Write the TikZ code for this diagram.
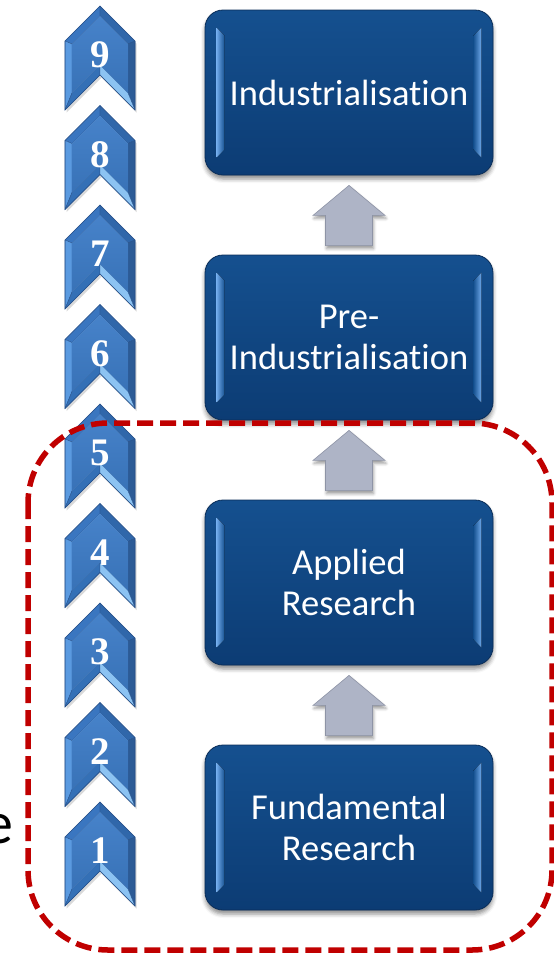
\documentclass[tikz,border=0pt]{standalone}
\usepackage{fontspec}
\setmainfont{Carlito}[Ligatures={NoCommon}]
\newfontfamily\numfont{Liberation Serif}
\usetikzlibrary{calc,shadows.blur}

\definecolor{boxtop}{HTML}{15508F}
\definecolor{boxbot}{HTML}{0C3C74}
\definecolor{boxedge}{HTML}{0A2D58}
\definecolor{hilite}{HTML}{6FA9EA}
\definecolor{chface}{HTML}{3D7CC7}
\definecolor{chleft}{HTML}{5A9AE0}
\definecolor{chtl}{HTML}{3A76C0}
\definecolor{chtr}{HTML}{3067AA}
\definecolor{chright}{HTML}{2C5B96}
\definecolor{chbr}{HTML}{8CC3F2}
\definecolor{chbl}{HTML}{3470B6}
\definecolor{chedge}{HTML}{26508A}
\definecolor{arrowfill}{HTML}{AEB4C6}
\definecolor{arrowedge}{HTML}{8E94A6}
\definecolor{zone}{HTML}{C00000}

\tikzset{
  stage/.style={rounded corners=18pt, draw=boxedge, line width=0.8pt,
    top color=boxtop, bottom color=boxbot,
    minimum width=288pt, minimum height=165pt, inner sep=0pt,
    blur shadow={shadow xshift=0pt, shadow yshift=-4pt, shadow blur radius=4pt, shadow opacity=45}},
  stagetext/.style={text=white, align=center, inner sep=0pt,
    font=\fontsize{36.5}{41}\selectfont},
  uparrow/.style={fill=arrowfill, draw=arrowedge, line width=0.6pt, line join=miter,
    blur shadow={shadow xshift=1pt, shadow yshift=-3pt, shadow blur radius=3pt, shadow opacity=40}},
  facet/.style={draw=chedge, line width=0.3pt, line join=round},
  level/.style={text=white, inner sep=0pt, font=\numfont\bfseries\fontsize{39}{39}\selectfont},
  zoneline/.style={draw=zone, line width=5.5pt, dash pattern=on 16pt off 7pt},
}

\begin{document}
\begin{tikzpicture}[x=1pt, y=-1pt]
\useasboundingbox (0,0) rectangle (554,954);

% partial heading letter at the left edge
\node[anchor=base east, inner sep=0pt, font=\fontsize{60}{60}\selectfont] (cutletter) at (14,843) {e};

% readiness level chevrons 1..9
\foreach \k in {1,...,9}{
  \pgfmathsetmacro\t{6+(9-\k)*99.5}
  \begin{scope}[shift={(100,\t)}]
    \fill[black, opacity=0.15] (1.5,2.5) -- (36.5,37.5) -- (36.5,106.5) -- (1.5,71.5) -- (-33.5,106.5) -- (-33.5,37.5) -- cycle;
    \filldraw[facet, fill=chtl] (0,0) -- (-35,35) -- (-28,38) -- (0,10) -- cycle;
    \filldraw[facet, fill=chtr] (0,0) -- (35,35) -- (28,38) -- (0,10) -- cycle;
    \filldraw[facet, fill=chleft] (-35,35) -- (-35,104) -- (-28,87) -- (-28,38) -- cycle;
    \filldraw[facet, fill=chright] (35,35) -- (35,104) -- (28,87) -- (28,38) -- cycle;
    \filldraw[facet, fill=chbl] (-35,104) -- (0,69) -- (0,59) -- (-28,87) -- cycle;
    \filldraw[facet, fill=chbr] (35,104) -- (0,69) -- (0,59) -- (28,87) -- cycle;
    \path[top color=chface!95!white, bottom color=chface!92!black] (0,10) -- (28,38) -- (28,87) -- (0,59) -- (-28,87) -- (-28,38) -- cycle;
    \draw[chedge, line width=0.6pt, line join=miter] (0,0) -- (35,35) -- (35,104) -- (0,69) -- (-35,104) -- (-35,35) -- cycle;
    \node[level] (lvl\k) at (0,49) {\k};
  \end{scope}
}

% stage boxes
\node[stage] (ind)  at (349,92.5)  {};
\node[stage] (pre)  at (349,337.5) {};
\node[stage] (app)  at (349,582.5) {};
\node[stage] (fund) at (349,827.5) {};

% bevel highlights on the box sides
\foreach \b in {ind,pre,app,fund}{
  \fill[left color=hilite, right color=boxtop]
    ($(\b.north west)+(12,18)$) -- ($(\b.south west)+(12,-18)$) --
    ($(\b.south west)+(20,-26)$) -- ($(\b.north west)+(20,26)$) -- cycle;
  \fill[left color=boxtop, right color=hilite]
    ($(\b.north east)+(-12,18)$) -- ($(\b.south east)+(-12,-18)$) --
    ($(\b.south east)+(-20,-26)$) -- ($(\b.north east)+(-20,26)$) -- cycle;
}

% stage labels
\node[stagetext] (indlabel)  at (ind)  {Industrialisation};
\node[stagetext] (prelabel)  at (pre)  {Pre-\\Industrialisation};
\node[stagetext] (applabel)  at (app)  {Applied\\Research};
\node[stagetext] (fundlabel) at (fund) {Fundamental\\Research};

% block arrows between stages
\foreach \u/\l in {ind/pre, pre/app, app/fund}{
  \filldraw[uparrow]
    ($(\u.south)+(0,10)$) -- ($(\u.south)+(36,40)$) -- ($(\u.south)+(23.5,40)$) --
    ($(\l.north)+(23.5,-9)$) -- ($(\l.north)+(-23.5,-9)$) --
    ($(\u.south)+(-23.5,40)$) -- ($(\u.south)+(-36,40)$) -- cycle;
}

% research zone
\draw[zoneline, rounded corners=80pt] (28,423) rectangle (552,950);
\end{tikzpicture}
\end{document}
